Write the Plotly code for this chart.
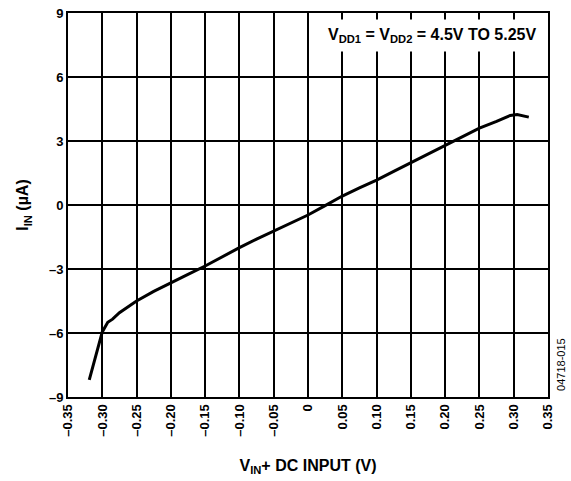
import plotly.graph_objects as go

vin = [-0.319, -0.310, -0.300, -0.292, -0.285, -0.275, -0.25, -0.225, -0.20, -0.175,
       -0.15, -0.125, -0.10, -0.075, -0.05, -0.025, 0.0, 0.025, 0.05, 0.075,
       0.10, 0.125, 0.15, 0.175, 0.20, 0.225, 0.25, 0.275, 0.295, 0.305, 0.322]
iin = [-8.2, -7.1, -5.95, -5.5, -5.35, -5.05, -4.5, -4.05, -3.64, -3.25,
       -2.86, -2.42, -2.0, -1.6, -1.22, -0.85, -0.47, -0.03, 0.42, 0.8,
       1.17, 1.58, 1.98, 2.38, 2.77, 3.18, 3.6, 3.92, 4.2, 4.24, 4.12]

x_tickvals = [-0.35, -0.30, -0.25, -0.20, -0.15, -0.10, -0.05, 0, 0.05, 0.10, 0.15, 0.20, 0.25, 0.30, 0.35]
x_ticktext = ["–0.35", "–0.30", "–0.25", "–0.20", "–0.15", "–0.10", "–0.05", "0",
              "0.05", "0.10", "0.15", "0.20", "0.25", "0.30", "0.35"]
y_tickvals = [-9, -6, -3, 0, 3, 6, 9]
y_ticktext = ["–9", "–6", "–3", "0", "3", "6", "9"]

font = "Liberation Sans, Arial, sans-serif"
tickfont = dict(family=font, size=13, color="black", weight="bold")
titlefont = dict(family=font, size=16, color="black")

fig = go.Figure()
fig.add_trace(go.Scatter(x=vin, y=iin, mode="lines",
                         line=dict(color="black", width=3), showlegend=False))

fig.update_layout(
    width=571, height=481,
    margin=dict(l=68, r=23, t=13, b=84),
    paper_bgcolor="white", plot_bgcolor="white",
    font=dict(family=font, size=12, color="black"),
    xaxis=dict(range=[-0.35, 0.35], tickvals=x_tickvals, ticktext=x_ticktext,
               tickangle=-90, tickfont=tickfont, automargin=False,
               showgrid=True, gridcolor="black", gridwidth=1.5,
               showline=True, linecolor="black", linewidth=2, mirror=True,
               zeroline=False, ticks="",
               title=dict(text="<b>V<sub>IN</sub>+ DC INPUT (V)</b>",
                          font=titlefont, standoff=24)),
    yaxis=dict(range=[-9, 9], tickvals=y_tickvals, ticktext=y_ticktext,
               tickfont=tickfont, automargin=False,
               showgrid=True, gridcolor="black", gridwidth=1.5,
               showline=True, linecolor="black", linewidth=2, mirror=True,
               zeroline=False, ticks="",
               title=dict(text="<b>I<sub>IN</sub> (µA)</b>",
                          font=titlefont, standoff=16)),
)

fig.add_annotation(xref="paper", yref="paper", x=0.99, y=0.941, xanchor="right", yanchor="middle",
                   text="<b>V<sub>DD1</sub> = V<sub>DD2</sub> = 4.5V TO 5.25V</b>",
                   showarrow=False, bgcolor="white", borderpad=6,
                   font=titlefont)

fig.add_annotation(xref="paper", yref="paper", x=1.027, y=0.086, xanchor="center", yanchor="middle",
                   text="04718-015", textangle=-90, showarrow=False,
                   font=dict(family=font, size=11, color="black"))

fig.write_html("out.html", config={"displayModeBar": False},
               post_script="document.body.style.margin='0';")
